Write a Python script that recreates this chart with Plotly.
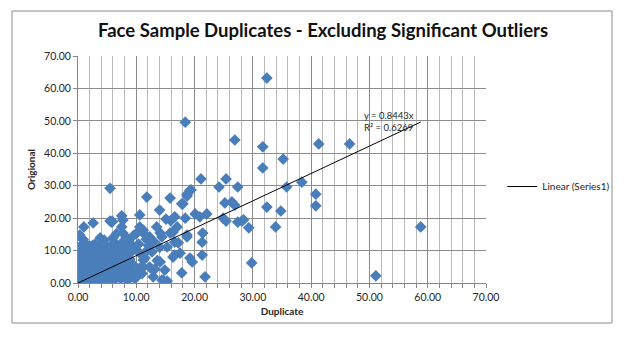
import plotly.graph_objects as go

# Paired duplicate / original sample readings
duplicate = [
    0.1, 0.3, 0.5, 0.2, 0.6, 0.9, 1.2, 1.5, 0.4, 0.8,
    1.1, 1.6, 2.0, 2.3, 2.1, 0.2, 0.7, 1.3, 1.8, 2.4,
    2.8, 3.0, 3.3, 3.6, 3.1, 0.3, 1.0, 1.5, 2.2, 2.7,
    3.4, 3.8, 4.0, 4.3, 4.1, 4.6, 0.5, 1.2, 2.0, 2.6,
    3.2, 3.9, 4.4, 4.8, 0.1, 0.4, 0.9, 1.7, 2.5, 3.0,
    5.0, 5.3, 5.7, 5.2, 5.9, 6.2, 6.5, 6.8, 6.3, 7.0,
    7.3, 7.6, 7.9, 7.4, 8.2, 8.5, 8.8, 9.1, 8.6, 9.4,
    9.7, 9.9, 5.1, 5.6, 6.0, 6.6, 6.9, 7.5, 7.8, 8.3,
    8.9, 9.3, 5.4, 6.1, 4.9, 4.2, 3.5, 5.8, 7.1, 8.0,
    9.0, 6.4, 7.7, 8.7, 9.6, 3.9, 2.9, 2.0, 1.4, 0.6,
    0.3, 1.0, 0.3, 0.9, 1.2, 2.6, 2.6, 3.8, 5.5, 5.9,
    6.0, 6.6, 7.5, 7.5, 7.7, 7.7, 8.9, 10.1, 10.6, 10.6,
    5.5, 5.8, 4.5, 9.5, 8.3,
    11.8, 14.0, 15.8, 18.7, 19.2, 18.0, 17.8, 15.1, 16.6, 15.9,
    18.4, 20.1, 22.1, 20.9, 13.5, 17.0, 14.1, 14.4, 15.8, 16.3,
    16.6, 17.2, 18.7, 18.7, 21.3, 21.4, 12.7, 15.3, 16.6, 19.2,
    19.6, 14.1, 14.9, 12.9, 13.2, 11.2, 17.8, 21.8, 14.4, 15.3,
    10.6, 11.5, 11.2, 11.2, 12.3, 12.3, 12.9, 10.1, 10.6, 11.2,
    14.6, 21.3, 17.5, 16.3, 14.0, 21.1, 18.7, 19.4, 12.1, 13.0,
    11.0, 13.6, 12.0, 10.4, 11.7,
    32.4, 18.4, 26.9, 31.7, 41.3, 46.6, 35.2, 31.7, 38.4, 35.8,
    25.4, 24.2, 27.4, 25.2, 26.4, 26.9, 24.9, 25.4, 27.4, 28.1,
    29.3, 32.4, 34.8, 33.9, 29.8, 40.8, 40.8, 58.8, 51.1, 28.4,
]
original = [
    0.2, 0.5, 0.1, 1.2, 1.8, 0.6, 0.3, 1.1, 2.5, 3.1,
    2.2, 2.8, 0.4, 1.5, 3.4, 4.0, 4.6, 4.2, 5.0, 4.4,
    2.6, 0.8, 1.9, 3.2, 4.9, 5.6, 6.2, 7.0, 6.5, 5.7,
    6.3, 5.1, 1.0, 2.3, 3.8, 4.6, 7.6, 8.3, 7.9, 8.8,
    7.4, 8.1, 6.9, 7.8, 3.3, 6.8, 9.2, 9.8, 10.3, 9.4,
    0.5, 1.6, 2.9, 4.1, 5.3, 0.9, 2.2, 3.6, 4.8, 6.1,
    1.3, 2.7, 4.0, 5.5, 6.6, 0.7, 2.0, 3.5, 4.9, 5.8,
    1.5, 3.0, 6.5, 7.2, 8.4, 7.0, 9.1, 8.0, 9.6, 8.7,
    7.4, 9.9, 9.8, 10.6, 11.2, 10.0, 11.0, 11.8, 11.3, 10.9,
    11.5, 12.2, 12.7, 12.3, 10.7, 12.6, 11.9, 11.4, 10.8, 11.8,
    9.6, 17.3, 14.8, 13.4, 12.3, 11.7, 18.5, 13.9, 19.1, 19.0,
    13.9, 15.2, 20.7, 17.3, 15.4, 19.4, 12.3, 15.4, 21.0, 17.3,
    29.2, 18.8, 13.2, 14.6, 14.0,
    26.5, 22.5, 26.2, 27.4, 28.6, 24.4, 24.4, 19.7, 20.4, 19.2,
    20.0, 21.3, 21.3, 20.4, 17.3, 17.3, 15.4, 14.2, 15.4, 15.7,
    12.6, 12.4, 14.8, 14.2, 12.6, 15.4, 9.6, 11.1, 8.6, 7.7,
    6.5, 6.5, 4.0, 4.0, 4.3, 4.9, 3.1, 1.9, 0.9, 0.6,
    9.2, 7.7, 15.4, 16.3, 14.2, 4.9, 1.9, 1.9, 4.6, 7.1,
    0.9, 8.6, 9.2, 8.0, 11.0, 32.1, 26.8, 28.7, 11.6, 12.8,
    2.9, 6.9, 10.3, 12.0, 13.5,
    63.2, 49.6, 44.1, 42.0, 42.9, 42.9, 38.2, 35.5, 31.1, 29.6,
    32.1, 29.6, 29.6, 24.7, 25.0, 24.0, 20.0, 19.1, 18.8, 19.1,
    17.0, 23.4, 22.2, 17.3, 6.2, 27.4, 23.8, 17.3, 2.2, 19.5,
]

# Linear trendline through the origin
slope = 0.8443
r_squared = 0.6269
trend_x = [0.0, max(duplicate)]
trend_y = [slope * v for v in trend_x]

FONT = "Lato"
TEXT = "#262626"

fig = go.Figure()
fig.add_trace(go.Scatter(
    x=duplicate, y=original, mode="markers", name="Series1",
    showlegend=False,
    marker=dict(symbol="diamond", size=9, color="#4a7ebb", line=dict(width=0)),
))
fig.add_trace(go.Scatter(
    x=trend_x, y=trend_y, mode="lines", name="Linear (Series1)",
    line=dict(color="black", width=1),
))

axis_common = dict(
    range=[0, 70], dtick=10, tickformat=".2f",
    showgrid=True, gridcolor="#8c8c8c", gridwidth=1,
    showline=True, linecolor="#868686", linewidth=1,
    ticks="outside", ticklen=4, tickcolor="#868686",
    zeroline=False,
    tickfont=dict(size=10.5, color=TEXT),
)

fig.update_layout(
    width=628, height=340,
    margin=dict(l=78, r=142, t=56, b=57, autoexpand=False),
    paper_bgcolor="white", plot_bgcolor="white",
    font=dict(family=FONT, size=10, color=TEXT),
    title=dict(
        text="<b>Face Sample Duplicates - Excluding Significant Outliers</b>",
        x=(323 - 78) / 408, xref="paper", xanchor="center",
        y=1 - 31 / 340, yanchor="middle",
        font=dict(family=FONT, size=18.5, color="#111"),
    ),
    xaxis=dict(
        **axis_common,
        minor=dict(dtick=2, showgrid=True, gridcolor="#b8b8b8",
                   ticks="outside", ticklen=4, tickcolor="#868686"),
        title=dict(text="<b>Duplicate</b>", font=dict(size=10, color=TEXT), standoff=6),
    ),
    yaxis=dict(
        **axis_common,
        title=dict(text="<b>Origional</b>", font=dict(size=10, color=TEXT), standoff=6),
    ),
    legend=dict(
        x=1.04, xanchor="left", y=0.425, yanchor="middle",
        font=dict(size=10, color=TEXT), bgcolor="rgba(0,0,0,0)",
    ),
    annotations=[dict(
        x=48.8, y=49.8, xref="x", yref="y",
        text="y = 0.8443x<br>R² = 0.6269",
        showarrow=False, xanchor="left", yanchor="middle", align="left",
        font=dict(size=9.5, color=TEXT),
    )],
    shapes=[dict(
        type="rect", xref="paper", yref="paper",
        x0=(12 - 78) / 408, x1=(612 - 78) / 408,
        y0=(283 - 323) / 227, y1=(283 - 11) / 227,
        line=dict(color="#8c8c8c", width=1), fillcolor="rgba(0,0,0,0)",
        layer="below",
    )],
)

fig.write_html("out.html")
